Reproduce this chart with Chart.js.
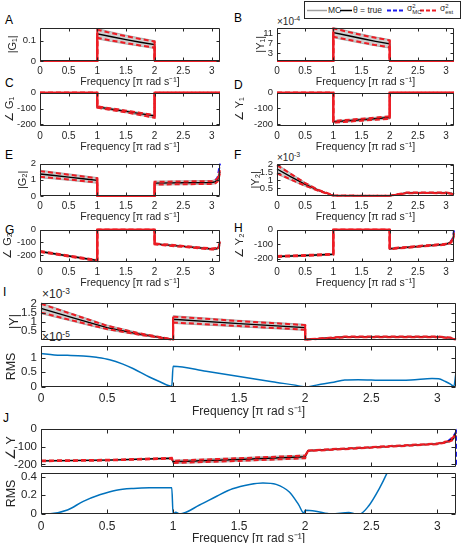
<!DOCTYPE html>
<html><head><meta charset="utf-8">
<script src="https://cdn.jsdelivr.net/npm/chart.js@4.4.1/dist/chart.umd.min.js"></script>
<style>
html,body{margin:0;padding:0;width:461px;height:543px;overflow:hidden;background:#fff;font-family:'Liberation Sans',Arial,sans-serif;}
canvas{position:absolute;}
.lbl{position:absolute;color:#000;font-size:12px;line-height:12px;}
.exp{position:absolute;color:#262626;white-space:nowrap;line-height:1;}
.exp sup{font-size:70%;vertical-align:4px;}
#legend{position:absolute;left:304px;top:1px;width:155px;height:16px;border:1px solid #262626;background:#fff;font-size:8.5px;color:#262626;}
#legend span{position:absolute;white-space:nowrap;}
.st{display:inline-block;font-size:6px;line-height:6px;vertical-align:middle;}
</style></head><body>
<div id="legend">
 <svg style="position:absolute;left:0;top:0" width="155" height="16">
  <line x1="2" y1="8.5" x2="22" y2="8.5" stroke="#a0a0a0" stroke-width="1.5"/>
  <line x1="35" y1="8.5" x2="47" y2="8.5" stroke="#000" stroke-width="1.5"/>
  <line x1="82" y1="8.5" x2="100" y2="8.5" stroke="#1c1cf0" stroke-width="1.8" stroke-dasharray="4 2"/>
  <line x1="115" y1="8.5" x2="133" y2="8.5" stroke="#ee1c24" stroke-width="1.8" stroke-dasharray="4 2"/>
 </svg>
 <span style="left:23px;top:3px">MC</span>
 <span style="left:48px;top:3px">θ = true</span>
 <span style="left:102px;top:1px">σ<span class="st">2<br>MC</span></span>
 <span style="left:135px;top:1px">σ<span class="st">2<br>est</span></span>
</div>
<div class="lbl" style="left:5px;top:14px">A</div>
<div class="lbl" style="left:234px;top:12px">B</div>
<div class="lbl" style="left:5px;top:77px">C</div>
<div class="lbl" style="left:234px;top:79px">D</div>
<div class="lbl" style="left:5px;top:149px">E</div>
<div class="lbl" style="left:234px;top:149px">F</div>
<div class="lbl" style="left:5px;top:224px">G</div>
<div class="lbl" style="left:234px;top:222px">H</div>
<div class="lbl" style="left:3px;top:286px">I</div>
<div class="lbl" style="left:3px;top:412px">J</div>
<div class="exp" style="left:277px;top:15px;font-size:10px">×10<sup>-4</sup></div>
<div class="exp" style="left:277px;top:151px;font-size:10px">×10<sup>-3</sup></div>
<div class="exp" style="left:42px;top:287px;font-size:12px">×10<sup>-3</sup></div>
<div class="exp" style="left:42px;top:330px;font-size:12px">×10<sup>-5</sup></div>
<script>
const PI = Math.PI;
const xTicks = [0, 0.5, 1, 1.5, 2, 2.5, 3];

// A  |G1|
const xA = [0, 1, 1, 1.25, 1.5, 1.75, 2, 2, PI];
const A_true  = [0, 0, 0.135, 0.120, 0.106, 0.093, 0.081, 0, 0];
const A_estUp = [0, 0, 0.155, 0.138, 0.123, 0.109, 0.097, 0, 0];
const A_estLo = [0, 0, 0.115, 0.101, 0.089, 0.077, 0.066, 0, 0];
const A_mcUp  = [0, 0, 0.161, 0.144, 0.128, 0.114, 0.101, 0, 0];
const A_mcLo  = [0, 0, 0.109, 0.096, 0.084, 0.073, 0.062, 0, 0];
const A_ticks = [0, 0.1];

// B  |Y1| (x1e-4)
const xB = [0, 1, 1, 1.25, 1.5, 1.75, 2, 2, PI];
const B_true  = [0, 0, 11.3, 10.1, 8.9, 7.8, 6.8, 0, 0];
const B_estUp = [0, 0, 12.9, 11.6, 10.3, 9.2, 8.2, 0, 0];
const B_estLo = [0, 0, 9.6, 8.5, 7.4, 6.3, 5.4, 0, 0];
const B_mcUp  = [0, 0, 13.3, 12.0, 10.7, 9.5, 8.5, 0, 0];
const B_mcLo  = [0, 0, 9.2, 8.1, 7.0, 6.0, 5.1, 0, 0];
const B_ticks = [3, 7, 11];

// C  angle G1
const xC = [0, 1, 1, 1.5, 2, 2, PI];
const C_true  = [0, 0, -90, -118, -147, 0, 0];
const C_estUp = [0, 0, -86, -113, -141, 0, 0];
const C_estLo = [0, 0, -95, -124, -158, 0, 0];
const C_mcUp  = [0, 0, -84, -111, -139, 0, 0];
const C_mcLo  = [0, 0, -97, -126, -160, 0, 0];

// D  angle Y1
const xD = [0, 1, 1, 1.5, 2, 2, PI];
const D_true  = [0, 0, -185, -172, -158, 0, 0];
const D_estUp = [0, 0, -180, -166, -151, 0, 0];
const D_estLo = [0, 0, -191, -178, -166, 0, 0];
const D_mcUp  = [0, 0, -178, -164, -149, 0, 0];
const D_mcLo  = [0, 0, -193, -180, -168, 0, 0];
const phaseTicks = [-200, -100, 0];

// E  |G2|
const xE = [0, 0.25, 0.5, 0.75, 1, 1, 2, 2, 2.5, 3, 3.06, 3.1, PI];
const E_true  = [1.36, 1.27, 1.17, 1.07, 0.97, 0, 0, 0.80, 0.82, 0.84, 0.88, 1.00, 1.50];
const E_estUp = [1.54, 1.43, 1.32, 1.21, 1.10, 0, 0, 0.88, 0.90, 0.92, 0.97, 1.10, 1.60];
const E_estLo = [1.19, 1.11, 1.02, 0.93, 0.84, 0, 0, 0.71, 0.73, 0.75, 0.79, 0.90, 1.40];
const E_mcUp  = [1.60, 1.48, 1.37, 1.26, 1.14, 0, 0, 0.92, 0.94, 0.96, 1.01, 1.15, 1.80];
const E_mcLo  = [1.13, 1.05, 0.97, 0.88, 0.79, 0, 0, 0.68, 0.70, 0.72, 0.76, 0.86, 1.25];
const xEb = [3.06, 3.1, PI];
const E_blue  = [0.97, 1.15, 2.0];
const E_ticks = [0, 1, 2];

// F  |Y2| (x1e-3)
const xF = [0, 0.25, 0.5, 0.75, 1, 1.5, 2, 2.3, 2.6, 3, 3.1, PI];
const F_true  = [1.73, 1.22, 0.74, 0.35, 0.03, 0.02, 0.02, 0.20, 0.21, 0.20, 0.16, 0.10];
const F_estUp = [1.98, 1.40, 0.83, 0.37, 0.04, 0.02, 0.02, 0.22, 0.23, 0.22, 0.18, 0.11];
const F_estLo = [1.46, 1.05, 0.66, 0.32, 0.02, 0.01, 0.01, 0.18, 0.19, 0.18, 0.14, 0.09];
const F_mcUp  = [2.04, 1.45, 0.87, 0.39, 0.05, 0.03, 0.03, 0.24, 0.25, 0.24, 0.20, 0.13];
const F_mcLo  = [1.40, 1.00, 0.62, 0.29, 0.01, 0, 0, 0.16, 0.17, 0.16, 0.12, 0.07];
const F_ticks = [0.5, 1, 1.5, 2];

// G  angle G2
const xG = [0, 0.5, 1, 1, 2, 2, 2.5, 3, 3.08, 3.12, PI];
const G_true  = [-172, -208, -243, 0, 0, -112, -132, -152, -150, -135, -100];
const G_estUp = [-168, -204, -239, 0, 0, -108, -128, -148, -145, -128, -92];
const G_estLo = [-176, -212, -247, 0, 0, -116, -136, -156, -155, -142, -110];
const G_mcUp  = [-166, -202, -237, 0, 0, -106, -126, -146, -143, -125, -88];
const G_mcLo  = [-178, -214, -249, 0, 0, -118, -138, -158, -157, -145, -115];

// H  angle Y2
const xH = [0, 0.5, 1, 1, 2, 2, 2.5, 3, 3.08, 3.12, PI];
const H_true  = [-184, -177, -169, 0, 0, -131, -115, -100, -88, -70, -30];
const H_estUp = [-181, -174, -166, 0, 0, -128, -112, -97, -84, -64, -20];
const H_estLo = [-187, -180, -172, 0, 0, -134, -118, -103, -92, -76, -40];
const H_mcUp  = [-179, -172, -164, 0, 0, -126, -110, -95, -82, -60, -15];
const H_mcLo  = [-189, -182, -174, 0, 0, -136, -120, -105, -94, -80, -45];
const xHb = [3.08, 3.12, PI];
const H_blue  = [-84, -58, -5];

// I  |Y| (x1e-3)
const xI = [0, 0.25, 0.5, 0.75, 1, 1, 1.5, 2, 2, 2.3, 2.6, 3, 3.1, PI];
const I_true  = [1.73, 1.20, 0.68, 0.32, 0.03, 1.14, 0.90, 0.68, 0.03, 0.17, 0.18, 0.18, 0.12, 0.03];
const I_estUp = [1.98, 1.38, 0.78, 0.36, 0.04, 1.28, 1.04, 0.82, 0.04, 0.19, 0.20, 0.20, 0.14, 0.04];
const I_estLo = [1.50, 1.05, 0.60, 0.29, 0.02, 0.96, 0.77, 0.57, 0.02, 0.15, 0.16, 0.16, 0.10, 0.02];
const I_mcUp  = [2.03, 1.42, 0.82, 0.39, 0.05, 1.33, 1.08, 0.86, 0.05, 0.20, 0.21, 0.21, 0.15, 0.05];
const I_mcLo  = [1.44, 1.00, 0.56, 0.26, 0.01, 0.91, 0.72, 0.53, 0.01, 0.14, 0.15, 0.15, 0.09, 0.01];
const I_ticks = [0.5, 1, 1.5, 2];

// I RMS (x1e-5)
const xIR = [0, 0.1, 0.2, 0.32, 0.42, 0.52, 0.62, 0.7, 0.82, 0.9, 0.99, 1, 1.25, 1.5, 1.75, 1.99, 2.0, 2.1, 2.2, 2.3, 2.4, 2.6, 2.8, 2.96, 3.01, 3.06, 3.1, 3.125, PI];
const IR_rms = [1.14, 1.09, 1.08, 1.06, 1.01, 0.93, 0.78, 0.62, 0.34, 0.18, 0.02, 0.71, 0.54, 0.36, 0.18, 0.01, 0.0, 0.08, 0.15, 0.24, 0.25, 0.23, 0.24, 0.29, 0.28, 0.19, 0.10, 0.02, 0.5];
const IR_ticks = [0, 0.5, 1];

// J  angle Y
const xJ = [0, 0.5, 0.99, 1, 1.5, 2, 2.02, 2.5, 3, 3.08, 3.12, PI];
const J_true  = [-180, -176, -165, -185, -172, -157, -123, -104, -84, -72, -55, -22];
const J_estUp = [-178, -174, -163, -179, -165, -150, -121, -102, -82, -69, -48, -20];
const J_estLo = [-182, -178, -167, -192, -180, -165, -125, -106, -86, -75, -62, -35];
const J_mcUp  = [-177, -173, -162, -176, -162, -147, -120, -101, -81, -68, -45, -15];
const J_mcLo  = [-183, -179, -168, -195, -183, -168, -126, -107, -87, -76, -64, -40];
const xJb = [3.08, 3.12, PI, PI];
const J_blue  = [-69, -45, -18, -215];

// J RMS
const xJR = [0, 0.07, 0.2, 0.32, 0.45, 0.57, 0.7, 0.82, 0.99, 1.0, 1.02, 1.05, 1.2, 1.33, 1.45, 1.58, 1.68, 1.78, 1.88, 1.95, 1.99, 2.0, 2.08, 2.2, 2.33, 2.38, 2.41, 2.48, 2.56, 2.62, 2.7, 2.9, PI];
const JR_rms = [0, 0.003, 0.043, 0.135, 0.208, 0.255, 0.274, 0.28, 0.28, 0.0, 0.02, 0.0, 0.096, 0.19, 0.27, 0.317, 0.333, 0.317, 0.235, 0.1, 0.01, 0.04, 0.03, 0.0, 0.017, 0.003, 0.0, 0.086, 0.27, 0.44, 0.7, 1.2, 2.0];
const JR_ticks = [0, 0.2, 0.4];

// ---------- rendering ----------
const FF = "'Liberation Sans', Arial, Helvetica, sans-serif";
const TXT = '#262626';
const RED = '#ee1c24', BLUE = '#1c1cf0', GREYF = 'rgba(165,165,165,0.55)', GREYL = '#9a9a9a', RMSC = '#0072BD';
const DASH = [5, 3];
Chart.defaults.font.family = FF;

function pts(xs, ys) { return xs.map((x, i) => ({x: x, y: ys[i]})); }
// solid pieces of an estimate curve: its vertical jumps and its runs along zero
function edgePts(xs, ys) {
  const out = [];
  for (let i = 0; i < xs.length - 1; i++) {
    if (xs[i] === xs[i + 1] || (ys[i] === 0 && ys[i + 1] === 0)) {
      out.push({x: xs[i], y: ys[i]}, {x: xs[i + 1], y: ys[i + 1]}, {x: xs[i + 1], y: null});
    }
  }
  return out;
}
function dashed(xs, ys, color) {
  return {data: pts(xs, ys), borderColor: color, borderWidth: 2, borderDash: DASH,
    pointRadius: 0, tension: 0, clip: 2, fill: false};
}
function solidEdges(xs, ys, color) {
  return {data: edgePts(xs, ys), borderColor: color, borderWidth: 2, spanGaps: false,
    pointRadius: 0, tension: 0, clip: 2, fill: false};
}
// Chart.js paints the dataset list from last to first, so the list is built bottom-up and reversed
function uncSets(xs, mcLo, mcUp, tru, estLo, estUp, bxs, blue) {
  const base = {pointRadius: 0, tension: 0, clip: 2};
  const sets = [
    {...base, data: pts(xs, mcLo), borderColor: GREYL, borderWidth: 0.8, fill: false},
    {...base, data: pts(xs, mcUp), borderColor: GREYL, borderWidth: 0.8, fill: '+1', backgroundColor: GREYF}
  ];
  if (bxs) sets.push(dashed(bxs, blue, BLUE));
  sets.push({...base, data: pts(xs, tru), borderColor: '#000', borderWidth: 1.4, fill: false});
  sets.push(dashed(xs, estLo, RED));
  sets.push(dashed(xs, estUp, RED));
  sets.push(solidEdges(xs, estLo, RED));
  sets.push(solidEdges(xs, estUp, RED));
  return sets.reverse();
}
function rmsSet(xs, ys) {
  return [{data: pts(xs, ys), borderColor: RMSC, borderWidth: 1.5, pointRadius: 0, cubicInterpolationMode: 'monotone', clip: 0, fill: false}];
}

const boxPlugin = {
  id: 'box',
  afterDatasetsDraw(chart, args, opts) {
    const {ctx, chartArea: a} = chart;
    const x = chart.scales.x, y = chart.scales.y;
    const tl = opts.tickLen || 3;
    ctx.save();
    ctx.strokeStyle = TXT; ctx.lineWidth = 1; ctx.setLineDash([]);
    ctx.beginPath();
    const L = Math.round(a.left) + 0.5, R = Math.round(a.right) - 0.5, T = Math.round(a.top) + 0.5, B = Math.round(a.bottom) - 0.5;
    ctx.rect(L, T, R - L, B - T);
    x.ticks.forEach(t => {
      const px = Math.round(x.getPixelForValue(t.value)) + 0.5;
      ctx.moveTo(px, B); ctx.lineTo(px, B - tl);
      ctx.moveTo(px, T); ctx.lineTo(px, T + tl);
    });
    y.ticks.forEach(t => {
      const py = Math.round(y.getPixelForValue(t.value)) + 0.5;
      ctx.moveTo(L, py); ctx.lineTo(L + tl, py);
      ctx.moveTo(R, py); ctx.lineTo(R - tl, py);
    });
    ctx.stroke();
    ctx.restore();
  }
};

function panel(cfg) {
  const c = document.createElement('canvas');
  const W = cfg.yw + cfg.pw + cfg.pr, H = cfg.pt + cfg.ph + cfg.xh + (cfg.pb || 0);
  c.width = W; c.height = H;
  c.style.left = (cfg.pl - cfg.yw) + 'px'; c.style.top = (cfg.ptop - cfg.pt) + 'px';
  c.style.width = W + 'px'; c.style.height = H + 'px';
  document.body.appendChild(c);
  new Chart(c, {
    type: 'line',
    data: {datasets: cfg.datasets},
    options: {
      responsive: false, animation: false, devicePixelRatio: 1, events: [],
      layout: {padding: {top: cfg.pt, right: cfg.pr, left: 0, bottom: cfg.pb || 0}},
      plugins: {legend: {display: false}, tooltip: {enabled: false}, box: {tickLen: cfg.tl}},
      scales: {
        x: {
          type: 'linear', min: 0, max: PI, offset: false,
          grid: {display: false, drawTicks: false}, border: {display: false},
          afterBuildTicks: s => { s.ticks = xTicks.map(v => ({value: v})); },
          afterFit: s => { s.height = cfg.xh; },
          ticks: {display: cfg.xlab, padding: cfg.xpad || 4, color: TXT, font: {size: cfg.fs, family: FF}, autoSkip: false, maxRotation: 0, callback: v => String(v)},
          title: {display: cfg.xlab, text: 'Frequency [π rad s⁻¹]', color: TXT, font: {size: cfg.tfs, family: FF}, padding: {top: 0, bottom: 0}}
        },
        y: {
          type: 'linear', min: cfg.ymin, max: cfg.ymax,
          grid: {display: false, drawTicks: false}, border: {display: false},
          afterBuildTicks: s => { s.ticks = cfg.yticks.map(v => ({value: v})); },
          afterFit: s => { s.width = cfg.yw; },
          ticks: {padding: 4, color: TXT, font: {size: cfg.yfsTick, family: FF}, autoSkip: false, callback: v => String(v)},
          title: {display: true, text: cfg.ytitle, color: TXT, font: {size: cfg.yfs, family: FF}, padding: {top: cfg.ytp, bottom: 0}}
        }
      }
    },
    plugins: [boxPlugin]
  });
}

const SM = {pt: 8, pr: 5, xh: 27, xlab: true, fs: 10, yfsTick: 9.5, tfs: 10.5, yfs: 11, tl: 3, xpad: 4, ph: 35};
const LC = {...SM, pl: 40, pw: 180, yw: 40};
const RC = {...SM, pl: 277, pw: 177, yw: 45};
const BG = {pl: 41, pw: 415, yw: 41, pr: 4, pt: 8, fs: 12, yfsTick: 11.5, tfs: 12, yfs: 12.5, tl: 4, ph: 44};

panel({...LC, ptop: 26, ymin: 0, ymax: 0.165, yticks: A_ticks, ytitle: '|G₁|', ytp: 6.4,
  datasets: uncSets(xA, A_mcLo, A_mcUp, A_true, A_estLo, A_estUp)});
panel({...RC, ptop: 26, ymin: 0, ymax: 13.2, yticks: B_ticks, ytitle: '|Y₁|', ytp: 22.4,
  datasets: uncSets(xB, B_mcLo, B_mcUp, B_true, B_estLo, B_estUp)});
panel({...LC, ptop: 91, ymin: -210, ymax: 0, yticks: phaseTicks, ytitle: '∠ G₁', ytp: 3.4,
  datasets: uncSets(xC, C_mcLo, C_mcUp, C_true, C_estLo, C_estUp)});
panel({...RC, ptop: 91, ymin: -212, ymax: 0, yticks: phaseTicks, ytitle: '∠ Y₁', ytp: 1.4,
  datasets: uncSets(xD, D_mcLo, D_mcUp, D_true, D_estLo, D_estUp)});
panel({...LC, ptop: 162, ph: 34, ymin: 0, ymax: 2, yticks: E_ticks, ytitle: '|G₂|', ytp: 16.4,
  datasets: uncSets(xE, E_mcLo, E_mcUp, E_true, E_estLo, E_estUp, xEb, E_blue)});
panel({...RC, ptop: 162, ph: 34, ymin: 0, ymax: 2.07, yticks: F_ticks, ytitle: '|Y₂|', ytp: 17.5,
  datasets: uncSets(xF, F_mcLo, F_mcUp, F_true, F_estLo, F_estUp)});
panel({...LC, ptop: 228, ph: 34, ymin: -255, ymax: 0, yticks: phaseTicks, ytitle: '∠ G₂', ytp: 1.4,
  datasets: uncSets(xG, G_mcLo, G_mcUp, G_true, G_estLo, G_estUp)});
panel({...RC, ptop: 228, ph: 34, ymin: -222, ymax: 0, yticks: phaseTicks, ytitle: '∠ Y₂', ytp: 1.4,
  datasets: uncSets(xH, H_mcLo, H_mcUp, H_true, H_estLo, H_estUp, xHb, H_blue)});

panel({...BG, ptop: 300, ph: 43, xh: 0, pb: 8, xlab: false, ymin: 0, ymax: 2.03, yticks: I_ticks, ytitle: '|Y|', ytp: 7.5,
  datasets: uncSets(xI, I_mcLo, I_mcUp, I_true, I_estLo, I_estUp)});
panel({...BG, ptop: 343, xh: 32, xlab: true, xpad: 4, ymin: 0, ymax: 1.4, yticks: IR_ticks, ytitle: 'RMS', ytp: 4.2,
  datasets: rmsSet(xIR, IR_rms)});
panel({...BG, ptop: 426, xh: 0, pb: 8, xlab: false, ymin: -215, ymax: 0, yticks: phaseTicks, ytitle: '∠ Y', ytp: 4.5,
  datasets: uncSets(xJ, J_mcLo, J_mcUp, J_true, J_estLo, J_estUp, xJb, J_blue)});
panel({...BG, ptop: 470, xh: 32, xlab: true, xpad: 5, ymin: 0, ymax: 0.44, yticks: JR_ticks, ytitle: 'RMS', ytp: 4.2,
  datasets: rmsSet(xJR, JR_rms)});
</script>
</body></html>
